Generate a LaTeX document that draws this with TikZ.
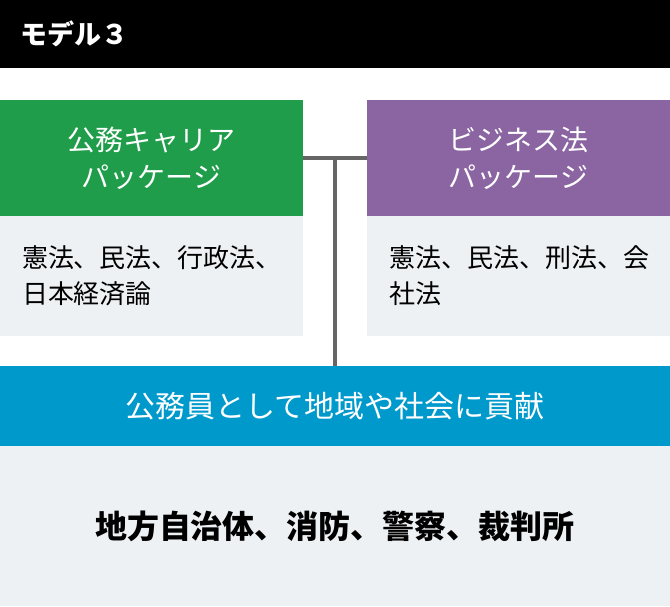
\documentclass[tikz,border=0pt]{standalone}
\usepackage{fontspec}
\setmainfont{Noto Sans CJK JP}
\usetikzlibrary{positioning}
\definecolor{careergreen}{RGB}{31,157,74}
\definecolor{bizpurple}{RGB}{139,100,162}
\definecolor{contribblue}{RGB}{0,153,204}
\definecolor{listgray}{RGB}{238,241,244}
\definecolor{linkgray}{RGB}{102,102,102}
\begin{document}
\begin{tikzpicture}[x=1pt, y=-1pt,
    every node/.style={outer sep=0pt, inner sep=0pt},
    pkgbox/.style={minimum width=303pt, minimum height=116pt, text=white, align=center, font=\fontsize{28}{37}\selectfont},
    listbox/.style={fill=listgray, minimum width=303pt, minimum height=120pt, text width=259pt, inner xsep=22pt, align=left, font=\fontsize{26}{36}\selectfont},
    link/.style={draw=linkgray, line width=4pt}]
    \useasboundingbox (0,0) rectangle (670,606);
    \node [fill=black, minimum width=670pt, minimum height=68pt, anchor=north west] (bar) at (0,0) {};
    \node [text=white, font=\bfseries\fontsize{27}{30}\selectfont, anchor=west] (title) at (20,34) {モデル３};
    \node [pkgbox, fill=careergreen, anchor=north west] (career) at (0,100) {公務キャリア\\パッケージ};
    \node [listbox, below=0pt of career] (careerlist) {憲法、民法、行政法、\\日本経済論};
    \node [pkgbox, fill=bizpurple, anchor=north east] (business) at (670,100) {ビジネス法\\パッケージ};
    \node [listbox, below=0pt of business] (businesslist) {憲法、民法、刑法、会\\社法};
    \node [fill=contribblue, minimum width=670pt, minimum height=80pt, text=white, font=\fontsize{30}{34}\selectfont, anchor=north west] (contrib) at (0,366) {公務員として地域や社会に貢献};
    \node [fill=listgray, minimum width=670pt, minimum height=160pt, font=\bfseries\fontsize{32}{38}\selectfont, below=0pt of contrib] (careers) {地方自治体、消防、警察、裁判所};
    \draw [link] (career.east) -- (business.west);
    \draw [link] (contrib.north) -- (contrib.north |- career.east);
\end{tikzpicture}
\end{document}
